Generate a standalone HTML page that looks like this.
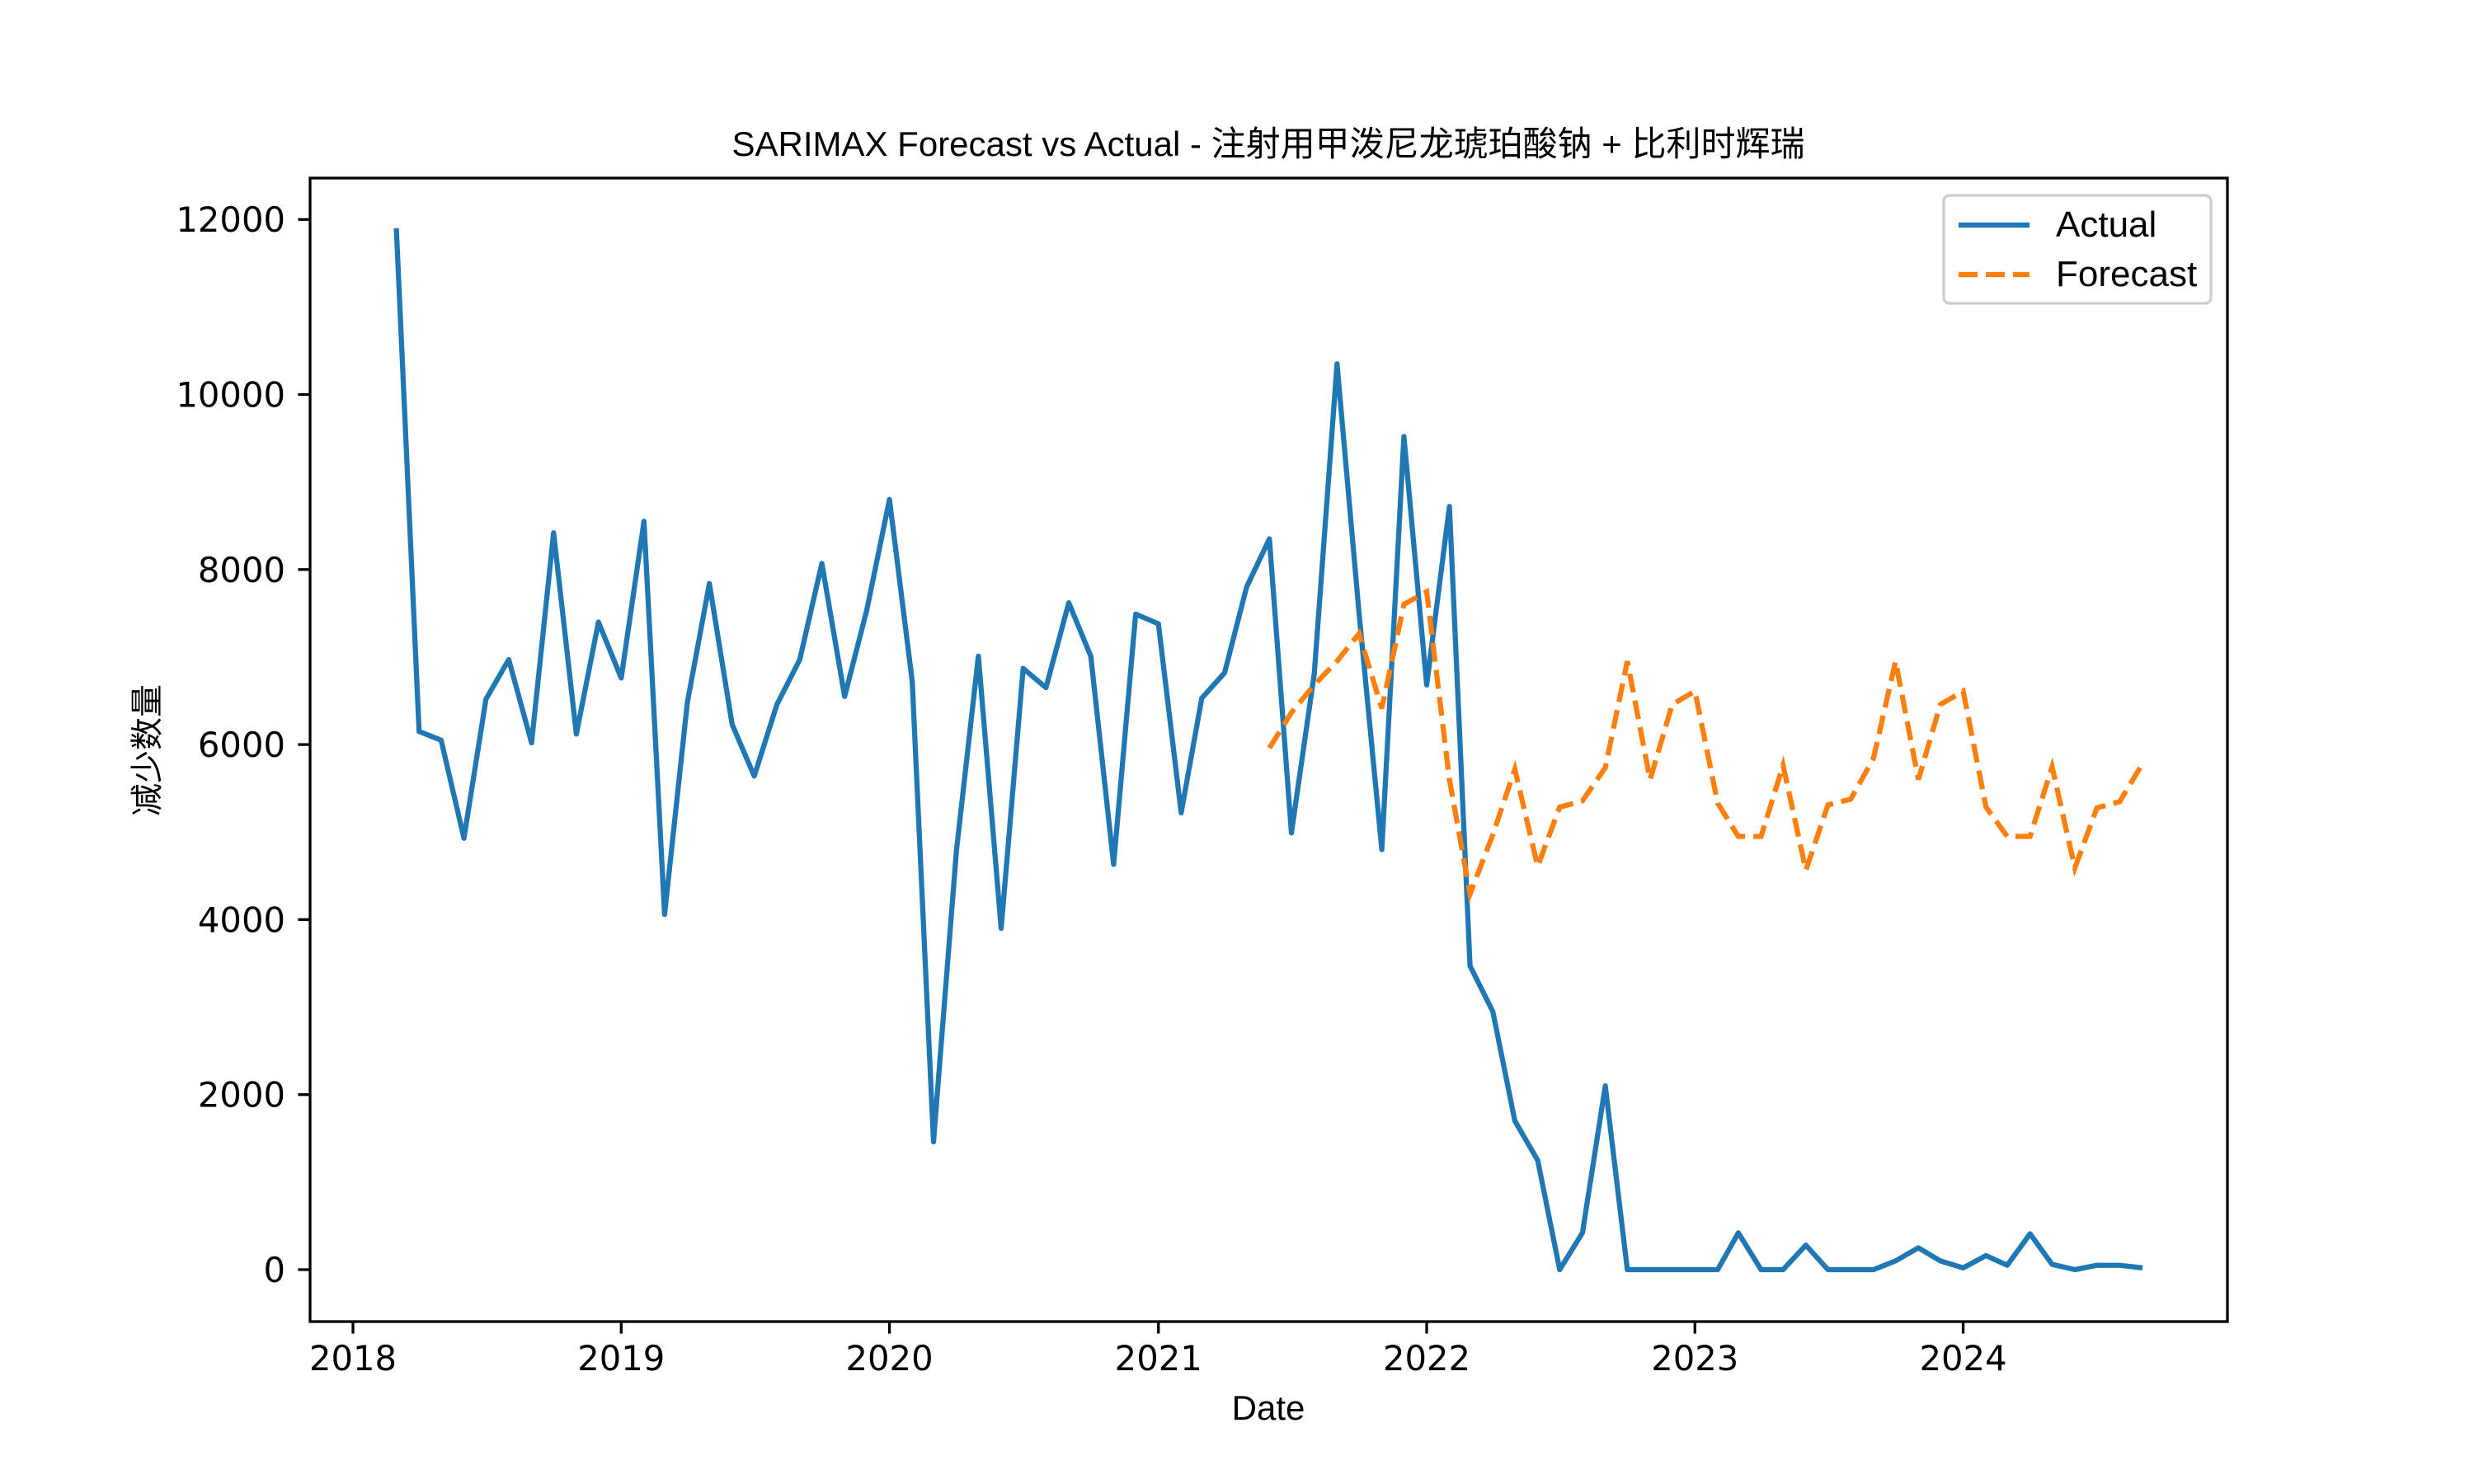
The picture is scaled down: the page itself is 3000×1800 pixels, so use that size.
<!DOCTYPE html>
<html><head><meta charset="utf-8"><style>
html,body{margin:0;padding:0;background:#fff;}
svg{display:block;}
.tick{font-family:"DejaVu Sans","Liberation Sans",sans-serif;font-size:41.7px;fill:#000;}
.lbl{font-family:"Liberation Sans","Noto Sans CJK SC",sans-serif;fill:#000;}
</style></head><body>
<svg id="chart" width="3000" height="1800" xmlns="http://www.w3.org/2000/svg">
<rect width="3000" height="1800" fill="#fff"/>
<text class="lbl" x="1538" y="189" font-size="42" text-anchor="middle">SARIMAX Forecast vs Actual - 注射用甲泼尼龙琥珀酸钠 + 比利时辉瑞</text>
<g id="grid"></g>
<g id="series"></g>
<rect x="376" y="216" width="2325" height="1387" fill="none" stroke="#000" stroke-width="3.3"/>
<g id="axes"></g>
<text class="lbl" x="1538" y="1722" font-size="42" text-anchor="middle">Date</text>
<text class="lbl" x="192" y="910" font-size="40" text-anchor="middle" transform="rotate(-90 192 910)">减少数量</text>
<g>
<rect x="2357" y="237" width="324" height="131" rx="7" fill="#fff" fill-opacity="0.8" stroke="#ccc" stroke-width="3.3"/>
<line x1="2375" y1="273" x2="2461" y2="273" stroke="#1f77b4" stroke-width="6.25"/>
<text class="lbl" x="2493" y="287" font-size="44">Actual</text>
<line x1="2375" y1="333" x2="2461" y2="333" stroke="#ff7f0e" stroke-width="6.25" stroke-dasharray="23 10"/>
<text class="lbl" x="2493" y="347" font-size="44">Forecast</text>
</g>
</svg>
<script>
const actualStart = [2018, 3];
const actualValues = [11900,6150,6050,4930,6520,6970,6020,8420,6120,7400,
6760,8550,4060,6480,7840,6230,5640,6460,6970,8070,6550,7530,
8800,6720,1460,4780,7010,3900,6870,6650,7620,7010,4630,7490,
7380,5220,6530,6820,7800,8350,4990,6810,10350,7500,4800,9520,
6680,8720,3470,2950,1700,1250,0,420,2100,0,0,0,
0,0,420,0,0,280,0,0,0,100,250,100,
20,160,50,410,60,0,50,50,20];
const forecastStart = [2021, 6];
const forecastValues = [5960,6366,6682,6952,7268,6412,7602,7746,
5600,4293,4969,5717,4609,5285,5357,5735,6952,5600,6457,6610,
5330,4951,4951,5763,4563,5310,5375,5844,6952,5600,6457,6610,
5285,4951,4951,5745,4591,5276,5348,5781];
const yTicks = [0,2000,4000,6000,8000,10000,12000];
const xTickYears = [2018,2019,2020,2021,2022,2023,2024];

const NS = "http://www.w3.org/2000/svg";
function xScale(year, month){
  const d = Date.UTC(year, month-1, 1);
  const d0 = Date.UTC(2018,0,1);
  return 428 + (d - d0)/86400000 * (325.5/365.25);
}
function yScale(v){ return 1540 - v * (1273.8/12000); }
function mk(tag, attrs, parent){
  const el = document.createElementNS(NS, tag);
  for (const k in attrs) el.setAttribute(k, attrs[k]);
  parent.appendChild(el);
  return el;
}
const axes = document.getElementById('axes');
yTicks.forEach(v=>{
  const y = yScale(v);
  const t = mk('line',{x1:376,x2:361.4,y1:y,y2:y,stroke:'#000','stroke-width':3.3},axes);
  
  
  const l = mk('text',{x:346,y:y+15,'text-anchor':'end','class':'tick'},axes);
  l.textContent = v;
  
  
});
xTickYears.forEach(yr=>{
  const x = xScale(yr,1);
  const t = mk('line',{x1:x,x2:x,y1:1603,y2:1617.6,stroke:'#000','stroke-width':3.3},axes);
  
  
  const l = mk('text',{x:x,y:1662,'text-anchor':'middle','class':'tick'},axes);
  l.textContent = yr;
  
  
});
function pts(start, vals){
  return vals.map((v,i)=>{
    const m0 = start[1]-1+i;
    const yr = start[0] + Math.floor(m0/12);
    const mo = m0%12 + 1;
    return xScale(yr,mo).toFixed(1)+','+yScale(v).toFixed(1);
  }).join(' ');
}
const series = document.getElementById('series');
const a = mk('polyline',{points:pts(actualStart,actualValues),fill:'none',stroke:'#1f77b4','stroke-width':6.25,'stroke-linejoin':'round'},series);


const f = mk('polyline',{points:pts(forecastStart,forecastValues),fill:'none',stroke:'#ff7f0e','stroke-width':6.25,'stroke-dasharray':'23 10'},series);


</script>
</body></html>
